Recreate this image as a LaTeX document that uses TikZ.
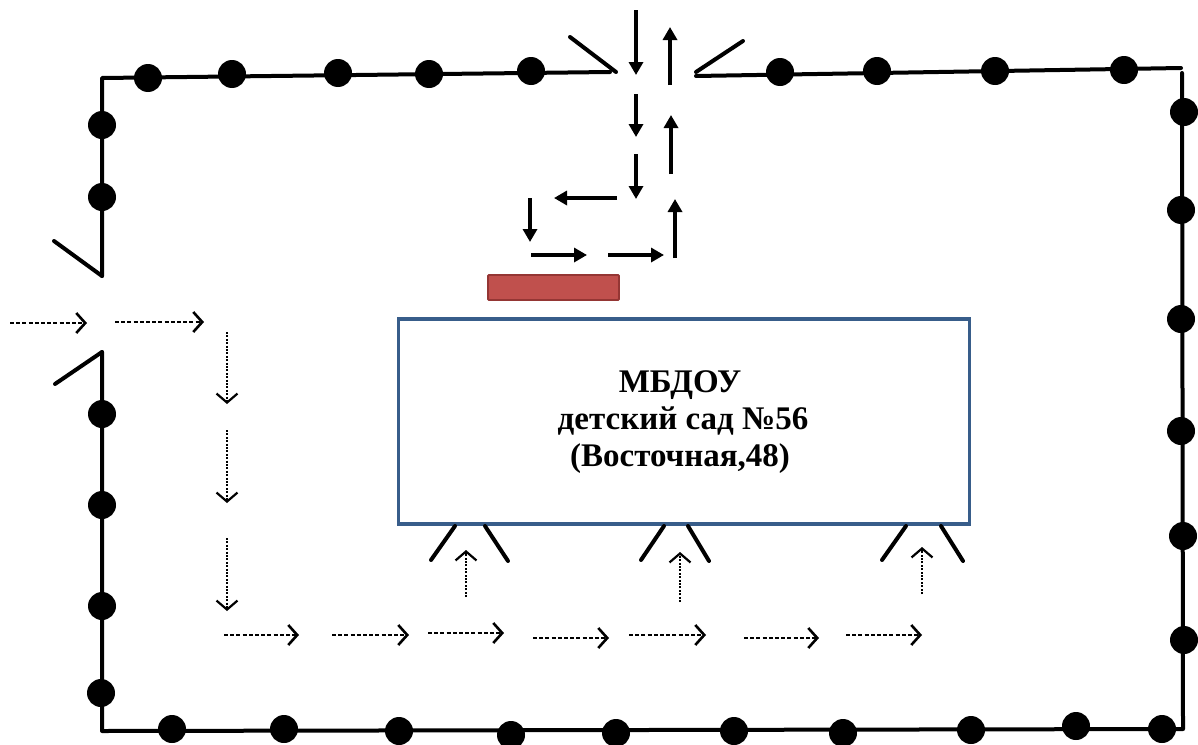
\documentclass[tikz,border=0pt]{standalone}
\usepackage{fontspec}
\setmainfont{Liberation Serif}
\usetikzlibrary{arrows.meta}
\tikzset{
  fence/.style={line width=4pt,line cap=round,line join=round},
  flap/.style={line width=4pt,line cap=round},
  post/.style={circle,fill=black,draw=none,minimum size=28pt,inner sep=0pt},
  solidarrow/.style={line width=4pt,-{Triangle[length=13pt,width=14pt]}},
  dasharrow/.style={line width=2pt,dash pattern=on 4pt off 2.2pt,-{Straight Barb[length=9pt,width=20pt,line width=2.6pt]}},
  dotarrow/.style={line width=2.2pt,dash pattern=on 2pt off 1.4pt,-{Straight Barb[length=9pt,width=21pt,line width=2.2pt]}},
  building/.style={draw={rgb,255:red,56;green,93;blue,138},line width=3.2pt,fill=white},
  porch/.style={draw={rgb,255:red,148;green,54;blue,52},fill={rgb,255:red,192;green,80;blue,77},line width=1.8pt,rounded corners=1pt},
  title/.style={font=\fontsize{33}{38}\selectfont\bfseries,inner sep=0pt,anchor=base,text=black}
}
\newcommand{\routearrow}[4]{\coordinate (#2s) at (#3); \coordinate (#2e) at (#4); \draw[#1] (#2s) -- (#2e);}
\begin{document}
\begin{tikzpicture}[x=1pt,y=-1pt]
\useasboundingbox[fill=white] (0,0) rectangle (1198,744);
% fence corners and gate ends
\coordinate (tl) at (102,78);
\coordinate (gw) at (610,72);
\coordinate (ge) at (696,76);
\coordinate (tr) at (1181,68);
\coordinate (trb) at (1182,73);
\coordinate (br) at (1183,729);
\coordinate (bl) at (102,731);
\coordinate (ln) at (102,276);
\coordinate (ls) at (102,352);
\draw[fence] (gw) -- (tl) -- (ln);
\draw[fence] (ge) -- (tr);
\draw[fence] (trb) -- (br) -- (bl) -- (ls);
% gate flaps
\coordinate (fa) at (570,37); \coordinate (fah) at (616,72);
\coordinate (fb) at (743,41); \coordinate (fbh) at (696,72);
\coordinate (fc) at (54,241); \coordinate (fd) at (55,384);
\draw[flap] (fa) -- (fah);
\draw[flap] (fb) -- (fbh);
\draw[flap] (fc) -- (ln);
\draw[flap] (fd) -- (ls);
% posts
\foreach \n/\p in {t1/{148,78},t2/{232,74},t3/{338,73},t4/{429,74},t5/{531,71},t6/{780,72},t7/{877,71},t8/{995,71},t9/{1124,70},
  l1/{102,125},l2/{102,197},l3/{102,414},l4/{102,505},l5/{102,606},l6/{101,693},
  r1/{1184,112},r2/{1181,210},r3/{1181,319},r4/{1181,431},r5/{1183,536},r6/{1184,640},
  b1/{172,729},b2/{284,729},b3/{399,731},b4/{511,735},b5/{616,733},b6/{734,731},b7/{843,733},b8/{971,730},b9/{1076,726},b10/{1162,729}}
  {\node[post] (\n) at (\p) {};}
% building and porch
\node[porch,minimum width=131pt,minimum height=25pt,inner sep=0pt] (porch) at (553.5,287.5) {};
\node[building,minimum width=571pt,minimum height=205pt,inner sep=0pt] (school) at (684,421.5) {};
\node[title] (tline1) at (680,392) {МБДОУ};
\node[title] (tline2) at (683,429) {детский сад №56};
\node[title] (tline3) at (680,466) {(Восточная,48)};
% doors
\foreach \n/\a/\b/\c/\d in {da/455/431/485/508,db/664/641/688/709,dc/906/882/941/963}{
  \coordinate (\n1) at (\a,526); \coordinate (\n2) at (\b,560);
  \coordinate (\n3) at (\c,526); \coordinate (\n4) at (\d,561);
  \draw[flap] (\n1) -- (\n2);
  \draw[flap] (\n3) -- (\n4);
}
% vehicle route
\routearrow{solidarrow}{s1}{636,10}{636,75}
\routearrow{solidarrow}{s2}{670,85}{670,27}
\routearrow{solidarrow}{s3}{636,94}{636,137}
\routearrow{solidarrow}{s4}{671,174}{671,115}
\routearrow{solidarrow}{s5}{636,154}{636,199}
\routearrow{solidarrow}{s6}{617,198}{554,198}
\routearrow{solidarrow}{s7}{530,198}{530,242}
\routearrow{solidarrow}{s8}{531,255}{587,255}
\routearrow{solidarrow}{s9}{608,255}{664,255}
\routearrow{solidarrow}{s10}{675,258}{675,199}
% pedestrian route
\routearrow{dasharrow}{p1}{10,323}{87,323}
\routearrow{dasharrow}{p2}{115,322}{204,322}
\routearrow{dotarrow}{p3}{227,332}{227,404}
\routearrow{dotarrow}{p4}{227,430}{227,503}
\routearrow{dotarrow}{p5}{227,538}{227,611}
\routearrow{dasharrow}{p6}{224,635}{299,635}
\routearrow{dasharrow}{p7}{332,635}{409,635}
\routearrow{dasharrow}{p8}{428,633}{504,633}
\routearrow{dasharrow}{p9}{533,638}{609,638}
\routearrow{dasharrow}{p10}{629,635}{706,635}
\routearrow{dasharrow}{p11}{744,638}{819,638}
\routearrow{dasharrow}{p12}{846,635}{922,635}
\routearrow{dotarrow}{p13}{466,597}{466,550}
\routearrow{dotarrow}{p14}{680,602}{680,552}
\routearrow{dotarrow}{p15}{922,594}{922,547}
\end{tikzpicture}
\end{document}
